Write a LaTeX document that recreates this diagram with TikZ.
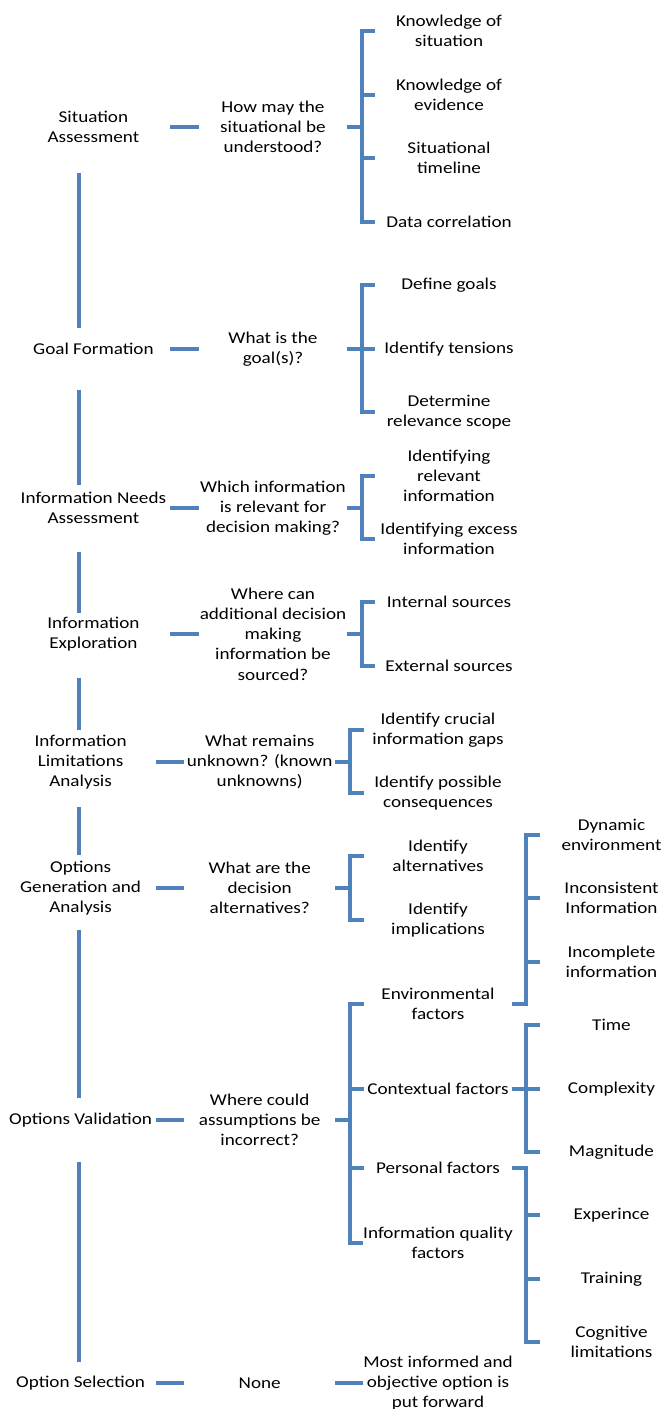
\documentclass[tikz,border=0pt]{standalone}
\usepackage{fontspec}
\setmainfont{Carlito}[FakeStretch=1.16]
\usetikzlibrary{calc}
\definecolor{linkblue}{HTML}{4F81BD}

\begin{document}
\begin{tikzpicture}[x=1pt,y=-1pt,
  every node/.style={align=center,inner xsep=0pt,inner ysep=1pt,text=black,
    font=\fontsize{16.5}{20.3}\selectfont},
  stagetop/.style={minimum width=153.4pt},
  stagelow/.style={minimum width=151pt},
  asktop/.style={minimum width=147pt},
  asklow/.style={minimum width=151pt},
  itemtop/.style={minimum width=148pt},
  itemlow/.style={minimum width=147pt},
  subitem/.style={minimum width=143pt},
  link/.style={draw=linkblue,line width=4pt}]
   \useasboundingbox (0,0) rectangle (666,1409);
   \coordinate (sx) at (79.3,0);

   \node[stagetop] (s1) at (93.4,127) {Situation\\Assessment};
   \node[stagetop] (s2) at (93.4,349) {Goal Formation};
   \node[stagetop] (s3) at (93.4,508) {Information Needs\\Assessment};
   \node[stagetop] (s4) at (93.4,634) {Information\\Exploration};
   \node[stagelow] (s5) at (80.6,762) {Information\\Limitations\\Analysis};
   \node[stagelow] (s6) at (80.6,888) {Options\\Generation and\\Analysis};
   \node[stagelow] (s7) at (80.6,1120) {Options Validation};
   \node[stagelow] (s8) at (80.6,1383) {Option Selection};

   \node[asktop] (q1) at (273,127) {How may the\\situational be\\understood?};
   \node[asktop] (q2) at (273,349) {What is the\\goal(s)?};
   \node[asktop] (q3) at (273,508) {Which information\\is relevant for\\decision making?};
   \node[asktop] (q4) at (273,634) {Where can\\additional decision\\making\\information be\\sourced?};
   \node[asklow] (q5) at (259.7,762) {What remains\\unknown? (known\\unknowns)};
   \node[asklow] (q6) at (259.7,888) {What are the\\decision\\alternatives?};
   \node[asklow] (q7) at (259.7,1120) {Where could\\assumptions be\\incorrect?};
   \node[asklow] (q8) at (259.7,1383) {None};

   \node[itemtop] (c1a) at (449,31) {Knowledge of\\situation};
   \node[itemtop] (c1b) at (449,95) {Knowledge of\\evidence};
   \node[itemtop] (c1c) at (449,158) {Situational\\timeline};
   \node[itemtop] (c1d) at (449,222) {Data correlation};
   \node[itemtop] (c2a) at (449,285) {Define goals};
   \node[itemtop] (c2b) at (449,349) {Identify tensions};
   \node[itemtop] (c2c) at (449,412) {Determine\\relevance scope};
   \node[itemtop] (c3a) at (449,476) {Identifying\\relevant\\information};
   \node[itemtop] (c3b) at (449,539) {Identifying excess\\information};
   \node[itemtop] (c4a) at (449,602) {Internal sources};
   \node[itemtop] (c4b) at (449,666) {External sources};
   \node[itemlow] (c5a) at (438,730) {Identify crucial\\information gaps};
   \node[itemlow] (c5b) at (438,793) {Identify possible\\consequences};
   \node[itemlow] (c6a) at (438,856) {Identify\\alternatives};
   \node[itemlow] (c6b) at (438,920) {Identify\\implications};
   \node[itemlow] (c7a) at (438,1004) {Environmental\\factors};
   \node[itemlow] (c7b) at (438,1089) {Contextual factors};
   \node[itemlow] (c7c) at (438,1168) {Personal factors};
   \node[itemlow] (c7d) at (438,1243) {Information quality\\factors};
   \node[itemlow] (c8a) at (438,1383) {Most informed and\\objective option is\\put forward};

   \node[subitem] (d1a) at (611.5,835) {Dynamic\\environment};
   \node[subitem] (d1b) at (611.5,898) {Inconsistent\\Information};
   \node[subitem] (d1c) at (611.5,962) {Incomplete\\information};
   \node[subitem] (d2a) at (611.5,1025) {Time};
   \node[subitem] (d2b) at (611.5,1089) {Complexity};
   \node[subitem] (d2c) at (611.5,1152) {Magnitude};
   \node[subitem] (d3a) at (611.5,1215) {Experince};
   \node[subitem] (d3b) at (611.5,1279) {Training};
   \node[subitem] (d3c) at (611.5,1342) {Cognitive\\limitations};

   \foreach \a/\b/\s/\e in {s1/s2/46/21,s2/s3/41/23,s3/s4/44/21,s4/s5/44/32,
                            s5/s6/45/33,s6/s7/42/22,s7/s8/42/21}
     \draw[link] ($(\a.center -| sx)+(0,\s)$) -- ($(\b.center -| sx)+(0,-\e)$);

   \foreach \i in {1,...,8}
     \draw[link] (s\i.east) -- (q\i.west);

   \foreach \c in {c1a,c1b,c1c,c1d}
     \draw[link] (q1.east) -- ++(15.3,0) |- (\c.west);
   \foreach \c in {c2a,c2b,c2c}
     \draw[link] (q2.east) -- ++(15.3,0) |- (\c.west);
   \foreach \c in {c3a,c3b}
     \draw[link] (q3.east) -- ++(15.3,0) |- (\c.west);
   \foreach \c in {c4a,c4b}
     \draw[link] (q4.east) -- ++(15.3,0) |- (\c.west);
   \foreach \c in {c5a,c5b}
     \draw[link] (q5.east) -- ++(15,0) |- (\c.west);
   \foreach \c in {c6a,c6b}
     \draw[link] (q6.east) -- ++(15,0) |- (\c.west);
   \foreach \c in {c7a,c7b,c7c,c7d}
     \draw[link] (q7.east) -- ++(15,0) |- (\c.west);
   \draw[link] (q8.east) -- (c8a.west);

   \foreach \c in {d1a,d1b,d1c}
     \draw[link] (c7a.east) -- ++(14.5,0) |- (\c.west);
   \foreach \c in {d2a,d2b,d2c}
     \draw[link] (c7b.east) -- ++(14.5,0) |- (\c.west);
   \foreach \c in {d3a,d3b,d3c}
     \draw[link] (c7c.east) -- ++(14.5,0) |- (\c.west);
\end{tikzpicture}
\end{document}
